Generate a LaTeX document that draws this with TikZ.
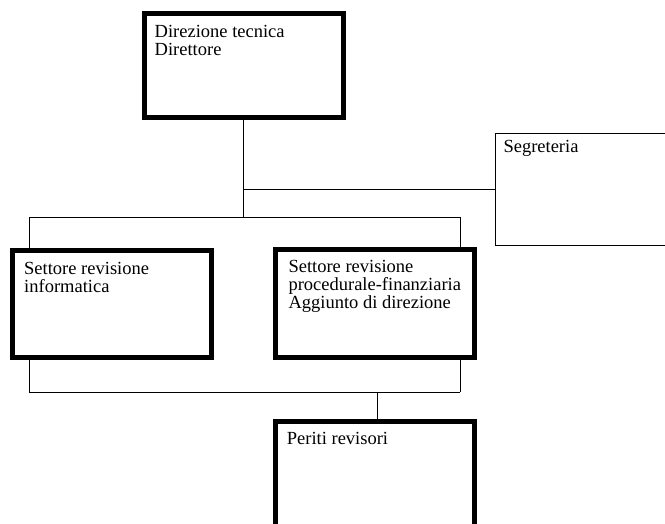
\documentclass[tikz,border=0pt]{standalone}
\usepackage{fontspec}
\setmainfont{Liberation Serif}
\usetikzlibrary{positioning, calc}
\newcommand{\drawc}{\draw[line width=0.9pt]}
\newcommand{\testo}{\fontsize{18.5}{17.8}\selectfont}

\begin{document}
\begin{tikzpicture}[x=1pt, y=-1pt,
  blocco/.style={draw, line width=5pt, minimum width=199pt, minimum height=107pt, inner sep=0pt, outer sep=0pt},
  bloccosottile/.style={draw, line width=1pt, minimum width=180pt, minimum height=112pt, inner sep=0pt, outer sep=0pt},
  scritta/.style={anchor=north west, inner sep=0pt, align=left, font=\testo}]
\clip (0,0) rectangle (665,524); %Taglio della pagina

%Direzione tecnica
\node[blocco, minimum height=104pt] (dir) at (243.5,66) {};
\node[scritta] (dir-t) at ([shift={(10.5,11)}]dir.north west) {Direzione tecnica\\Direttore};

%Segreteria
\node[bloccosottile] (seg) at (585,189.2) {};
\node[scritta] (seg-t) at ([shift={(8.3,7.3)}]seg.north west) {Segreteria};

%Settori
\node[blocco] (inf) at (112,304.2) {};
\node[scritta] (inf-t) at ([shift={(11.5,11.8)}]inf.north west) {Settore revisione\\informatica};
\node[blocco] (fin) at (375.2,303.5) {};
\node[scritta] (fin-t) at ([shift={(12.6,10.5)}]fin.north west) {Settore revisione\\procedurale-finanziaria\\Aggiunto di direzione};

%Periti revisori
\node[blocco] (per) at (375.3,474.5) {};
\node[scritta] (per-t) at ([shift={(10.9,11.3)}]per.north west) {Periti revisori};

%Punti delle linee
\coordinate (su-sx) at (29,217);
\coordinate (su-dx) at (460,217);
\coordinate (giu-sx) at (29,392.3);
\coordinate (giu-dx) at (460,392.3);
\coordinate (giu-per) at (377.7,392.3);

%Collegamenti in alto
\drawc (dir.south) -- (dir.south |- su-sx);
\drawc (dir.south |- seg.west) -- (seg.west); %Verso segreteria
\drawc (su-sx) -- (su-dx);
\drawc (su-sx) -- (su-sx |- inf.north);
\drawc (su-dx) -- (su-dx |- fin.north);

%Collegamenti in basso
\drawc (giu-sx |- inf.south) -- (giu-sx);
\drawc (giu-dx |- fin.south) -- (giu-dx);
\drawc (giu-sx) -- (giu-dx);
\drawc (giu-per) -- (giu-per |- per.north); %Verso periti
\end{tikzpicture}
\end{document}
